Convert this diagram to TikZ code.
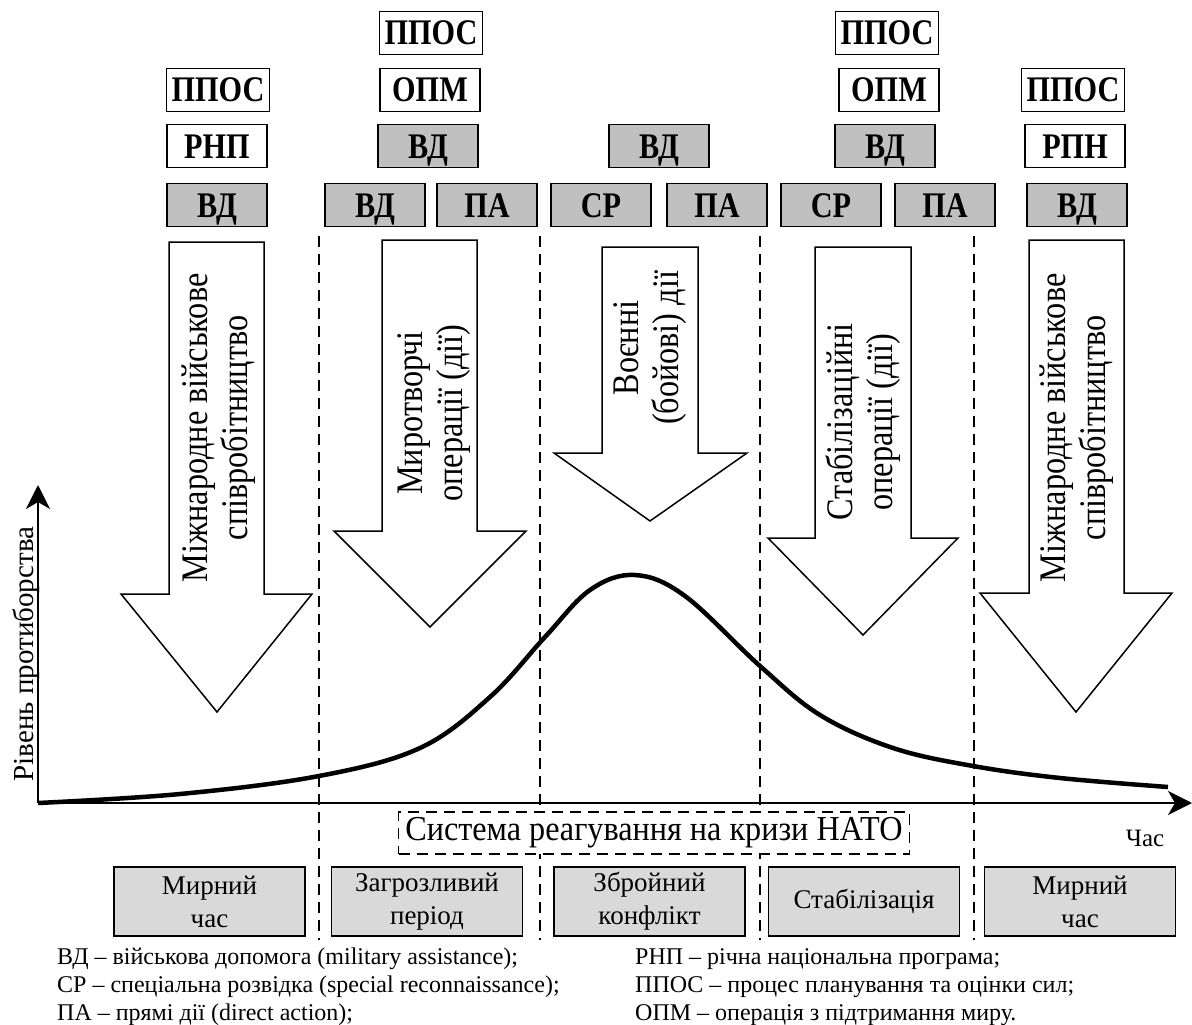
\documentclass[tikz,border=0pt]{standalone}
\usepackage{fontspec}
\setmainfont{Liberation Serif}
\newfontfamily\condfont[FakeStretch=0.86]{Liberation Serif}
\newfontfamily\tightfont[FakeStretch=0.84]{Liberation Serif}
\newfontfamily\natofont[FakeStretch=0.92]{Liberation Serif}
\usetikzlibrary{arrows.meta}
\definecolor{boxgrey}{HTML}{C0C0C0}
\definecolor{phasegrey}{HTML}{D9D9D9}
\begin{document}
\begin{tikzpicture}[x=1pt,y=-1pt,
  tbox/.style={draw, line width=1.6pt, minimum width=100pt, minimum height=43pt, inner sep=0pt, text height=24pt, text depth=0pt, font=\tightfont\fontsize{36}{40}\selectfont\bfseries},
  gbox/.style={tbox, fill=boxgrey},
  wbox/.style={tbox, fill=white},
  blockarrow/.style={draw, line width=1.5pt, fill=white, line join=miter},
  arrowtext/.style={rotate=90, align=center, font=\condfont\fontsize{37.5}{40}\selectfont, inner sep=0pt},
  divider/.style={line width=1.8pt, dash pattern=on 11pt off 7pt},
  phasebox/.style={draw, line width=1.5pt, fill=phasegrey, minimum width=191pt, minimum height=69pt, inner sep=0pt, align=center, font=\fontsize{27}{33}\selectfont},
  legend/.style={anchor=base west, inner sep=0pt, font=\fontsize{24}{28}\selectfont},
  axis/.style={line width=2pt, -{Stealth[length=24pt, width=24pt, inset=7pt]}}
]
\useasboundingbox (0,0) rectangle (1192,1025);

% dividers
\foreach \xx in {319,540,760,974} {
  \draw[divider] (\xx,236) -- (\xx,940);
}

% axes
\coordinate (O) at (38,803);
\coordinate (Ytip) at (38,485);
\coordinate (Xtip) at (1192,803);
\draw[axis] (O) -- (Ytip);
\draw[axis] (O) -- (Xtip);
\node[rotate=90, anchor=base, font=\fontsize{29}{32}\selectfont, inner sep=0pt] (ylab) at (33,654) {Рівень протиборства};
\node[font=\fontsize{25}{30}\selectfont, inner sep=0pt] (time) at (1145,838) {Час};

% curve
\draw[line width=4.5pt] plot[smooth, tension=0.6] coordinates {(38,803) (180,794) (319,776) (420,748) (490,697) (545,637) (590,590) (635,575) (685,596) (760,666) (820,715) (893,748) (973,766) (1060,778) (1168,787)};

% NATO system box
\node[draw, divider, fill=white, minimum width=511pt, minimum height=42pt, inner sep=0pt, font=\natofont\fontsize{35}{38}\selectfont] (nato) at (654,833) {Система реагування на кризи НАТО};

% block arrows
\draw[blockarrow] (169,242) -- (264,242) -- (264,594) -- (312,594) -- (217,712) -- (121,594) -- (169,594) -- cycle;
\draw[blockarrow] (382,240) -- (477,240) -- (477,531) -- (526,531) -- (430,627) -- (334,531) -- (382,531) -- cycle;
\draw[blockarrow] (602,247) -- (698,247) -- (698,453) -- (747,453) -- (650,521) -- (554,453) -- (602,453) -- cycle;
\draw[blockarrow] (815,247) -- (911,247) -- (911,538) -- (958,538) -- (863,635) -- (768,538) -- (815,538) -- cycle;
\draw[blockarrow] (1029,240) -- (1124,240) -- (1124,593) -- (1172,593) -- (1076,712) -- (980,593) -- (1029,593) -- cycle;

\node[arrowtext] (t1) at (219,428) {Міжнародне військове\\співробітництво};
\node[arrowtext] (t2) at (434,413) {Миротворчі\\операції (дії)};
\node[arrowtext] (t3) at (650,348) {Воєнні\\(бойові) дії};
\node[arrowtext] (t4) at (863,422) {Стабілізаційні\\операції (дії)};
\node[arrowtext] (t5) at (1077,428) {Міжнародне військове\\співробітництво};

% top boxes row 1
\node[wbox, minimum width=103pt] (r1a) at (431,33) {ППОС};
\node[wbox, minimum width=103pt] (r1b) at (887,33) {ППОС};
% row 2
\node[wbox, minimum width=103pt] (r2a) at (218,90) {ППОС};
\node[wbox] (r2b) at (430,90) {ОПМ};
\node[wbox] (r2c) at (889,90) {ОПМ};
\node[wbox, minimum width=103pt] (r2d) at (1073,90) {ППОС};
% row 3
\node[wbox] (r3a) at (217,146) {РНП};
\node[gbox] (r3b) at (428,146) {ВД};
\node[gbox] (r3c) at (659,146) {ВД};
\node[gbox] (r3d) at (885,146) {ВД};
\node[wbox] (r3e) at (1075,146) {РПН};
% row 4
\node[gbox] (r4a) at (217,205) {ВД};
\node[gbox] (r4b) at (375,205) {ВД};
\node[gbox] (r4c) at (487,205) {ПА};
\node[gbox] (r4d) at (601,205) {СР};
\node[gbox] (r4e) at (717,205) {ПА};
\node[gbox] (r4f) at (831,205) {СР};
\node[gbox] (r4g) at (945,205) {ПА};
\node[gbox] (r4h) at (1077,205) {ВД};

% phase boxes
\node[phasebox] (p1) at (209.5,901.5) {Мирний\\час};
\node[phasebox] (p2) at (427,901.5) {Загрозливий\\період};
\node[phasebox] (p3) at (649.5,901.5) {Збройний\\конфлікт};
\node[phasebox] (p4) at (864,901.5) {Стабілізація};
\node[phasebox] (p5) at (1080,901.5) {Мирний\\час};

% legend
\node[legend] (l1) at (57,964) {ВД – військова допомога (military assistance);};
\node[legend] (l2) at (57,992) {СР – спеціальна розвідка (special reconnaissance);};
\node[legend] (l3) at (57,1020) {ПА – прямі дії (direct action);};
\node[legend] (l4) at (635,964) {РНП – річна національна програма;};
\node[legend] (l5) at (635,992) {ППОС – процес планування та оцінки сил;};
\node[legend] (l6) at (635,1020) {ОПМ – операція з підтримання миру.};
\end{tikzpicture}
\end{document}
